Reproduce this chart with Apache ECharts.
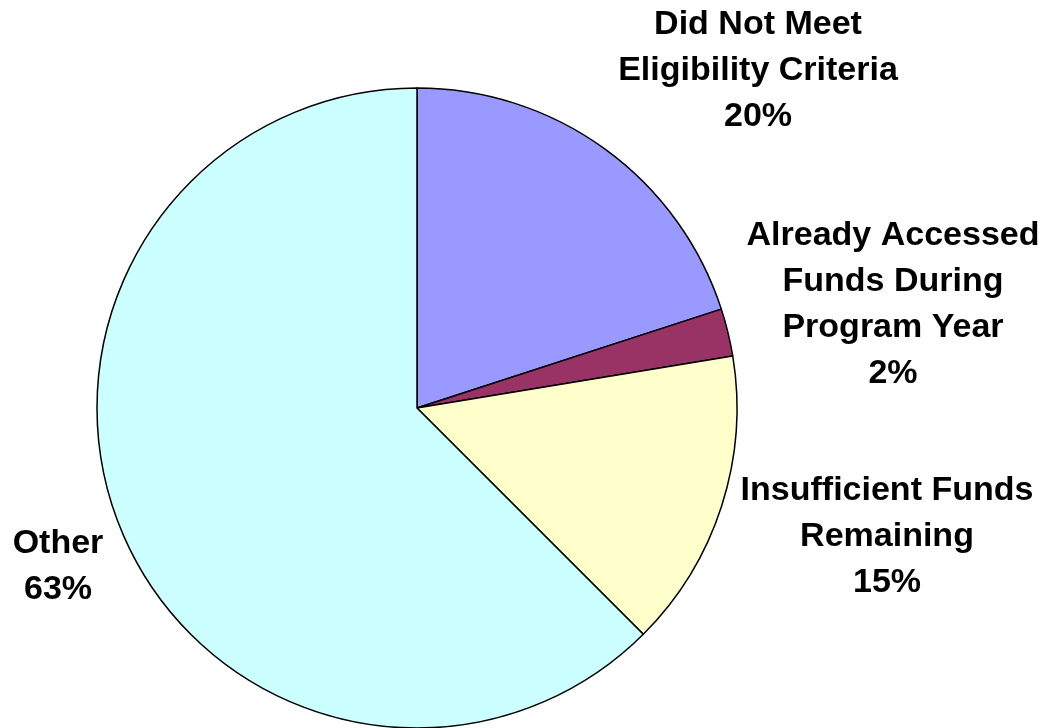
<!DOCTYPE html>
<html>
<head>
<meta charset="utf-8">
<script src="https://cdn.jsdelivr.net/npm/echarts@6/dist/echarts.min.js"></script>
<style>
html,body{margin:0;padding:0;background:#fff;}
#chart{width:1047px;height:728px;}
</style>
</head>
<body>
<div id="chart"></div>
<script>
var categories = [
  "Did Not Meet\nEligibility Criteria",
  "Already Accessed\nFunds During\nProgram Year",
  "Insufficient Funds\nRemaining",
  "Other"
];
var values = [20, 2.4, 15.1, 62.5];
var colors = ["#9999FF", "#993366", "#FFFFCC", "#CCFFFF"];

var labelPos = [[758, 71], [893, 305], [887, 537], [58, 567]];

var chart = echarts.init(document.getElementById('chart'), null, {renderer: 'canvas'});
chart.setOption({
  backgroundColor: '#ffffff',
  animation: false,
  series: [{
    type: 'pie',
    center: [417, 408],
    radius: [0, 320],
    startAngle: 90,
    clockwise: true,
    percentPrecision: 0,
    avoidLabelOverlap: false,
    data: categories.map(function (c, i) {
      return {name: c, value: values[i], itemStyle: {color: colors[i]}};
    }),
    itemStyle: {borderColor: '#000000', borderWidth: 1.5},
    label: {
      show: true,
      position: 'outside',
      formatter: '{b}\n{d}%',
      fontFamily: 'Liberation Sans, Arial, sans-serif',
      fontWeight: 'bold',
      fontSize: 34,
      lineHeight: 46,
      color: '#000000',
      align: 'center'
    },
    labelLine: {show: false},
    labelLayout: function (p) {
      var pos = labelPos[p.dataIndex];
      return {x: pos[0], y: pos[1], align: 'center', verticalAlign: 'middle', hideOverlap: false};
    },
    emphasis: {disabled: true}
  }]
});
</script>
</body>
</html>
